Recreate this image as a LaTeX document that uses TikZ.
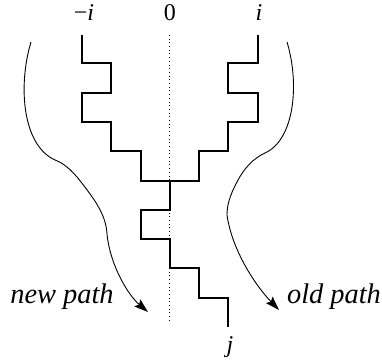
\documentclass[tikz,border=0pt]{standalone}
\usepackage{fontspec}
\setmainfont{Liberation Serif}
\usetikzlibrary{arrows.meta}
\begin{document}
\begin{tikzpicture}[x=0.5pt,y=-0.5pt,
  stepline/.style={line width=0.65pt, line join=miter},
  flow/.style={line width=0.45pt, -{Stealth[length=7pt,width=4.6pt,inset=1.2pt]}},
  axis/.style={line width=0.5pt, dash pattern=on 0.5pt off 1.35pt},
  toplabel/.style={font=\fontsize{12pt}{14pt}\selectfont, anchor=base, inner sep=0pt},
  pathlabel/.style={font=\fontsize{14.2pt}{16pt}\selectfont\itshape, anchor=base, inner sep=0pt}]
\useasboundingbox (0,0) rectangle (382,364);
% labels
\node[toplabel] (mi) at (84,20) {−\textit{i}};
\node[toplabel] (zero) at (170,20) {0};
\node[toplabel] (pi) at (259,20) {\textit{i}};
\node[toplabel] (j) at (230,353) {\textit{j}};
\node[pathlabel] (new) at (62,304) {new path};
\node[pathlabel] (old) at (334,304) {old path};
% axis
\coordinate (axtop) at (170,35);
\coordinate (axbot) at (170,322);
\draw[axis] (axtop) -- (axbot);
% staircases
\coordinate (ls) at (82,35);
\coordinate (rs) at (258,35);
\coordinate (meet) at (170,181);
\coordinate (je) at (228,327);
\draw[stepline] (ls) -- (82,63) -- (111,63) -- (111,93) -- (82,93) -- (82,122)
  -- (111,122) -- (111,151) -- (141,151) -- (141,181) -- (meet);
\draw[stepline] (rs) -- (258,63) -- (228,63) -- (228,93) -- (258,93) -- (258,122)
  -- (228,122) -- (228,151) -- (199,151) -- (199,181) -- (meet);
\draw[stepline] (meet) -- (170,210) -- (141,210) -- (141,239) -- (170,239) -- (170,268)
  -- (199,268) -- (199,298) -- (228,298) -- (je);
% curved arrows
\coordinate (lc) at (31,42);
\coordinate (lt) at (148,312);
\coordinate (rc) at (287,42);
\coordinate (rt) at (279,310);
\draw[flow] (lc) .. controls (18,85) and (22,145) .. (55,160)
  .. controls (63,163) and (71,169) .. (81,182)
  .. controls (95,200) and (106,215) .. (107,234)
  .. controls (110,265) and (128,295) .. (lt);
\draw[flow] (rc) .. controls (300,85) and (294,140) .. (265,153)
  .. controls (254,158) and (244,168) .. (237,182)
  .. controls (230,195) and (227,205) .. (227,215)
  .. controls (232,250) and (255,285) .. (rt);
\end{tikzpicture}
\end{document}
